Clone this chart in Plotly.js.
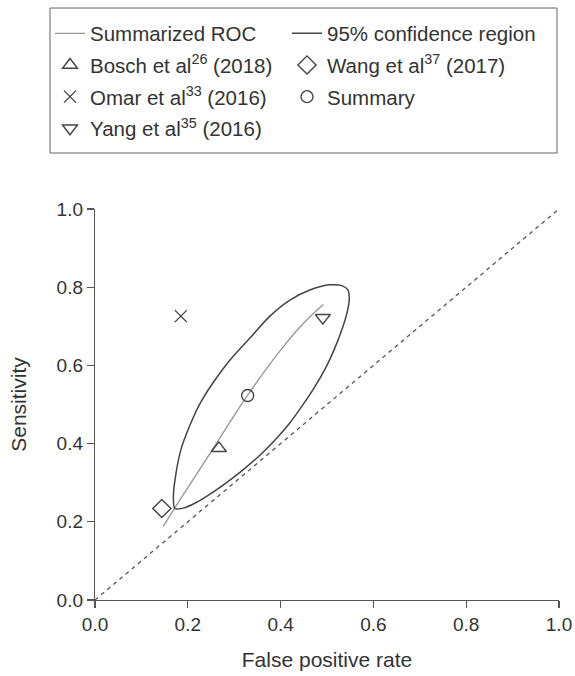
<!DOCTYPE html>
<html>
<head>
<meta charset="utf-8">
<script src="https://cdn.plot.ly/plotly-3.0.1.min.js"></script>
<style>html,body{margin:0;padding:0;background:#fff;}#chart{width:575px;height:676px;}</style>
</head>
<body>
<div id="chart"></div>
<script>
// Summarized ROC curve
const srocFPR  = [0.147, 0.176, 0.248, 0.329, 0.406, 0.456, 0.492];
const srocSens = [0.188, 0.243, 0.375, 0.524, 0.648, 0.716, 0.756];

// 95% confidence region (closed contour, from lower tip up the left side, over the top, down the right side)
const crFPR  = [0.172, 0.169, 0.174, 0.185, 0.205, 0.228, 0.257, 0.291, 0.334, 0.377, 0.420, 0.463, 0.507, 0.532, 0.545, 0.548, 0.544, 0.532, 0.515, 0.496, 0.472, 0.446, 0.418, 0.388, 0.356, 0.319, 0.282, 0.248, 0.216, 0.190, 0.172];
const crSens = [0.234, 0.266, 0.320, 0.384, 0.448, 0.506, 0.560, 0.614, 0.670, 0.726, 0.767, 0.793, 0.806, 0.804, 0.793, 0.772, 0.739, 0.691, 0.639, 0.591, 0.542, 0.496, 0.450, 0.409, 0.371, 0.333, 0.299, 0.271, 0.248, 0.235, 0.234];

// Studies
const studyNames = ["Bosch et al<sup>26</sup> (2018)", "Wang et al<sup>37</sup> (2017)", "Omar et al<sup>33</sup> (2016)", "Summary", "Yang et al<sup>35</sup> (2016)"];
const studyFPR   = [0.267, 0.144, 0.185, 0.329, 0.491];
const studySens  = [0.388, 0.234, 0.726, 0.523, 0.722];
const studySymbols = ["triangle-up-open", "diamond-open", "x-thin-open", "circle-open", "triangle-down-open"];
const studySizes = [13, 14, 12, 12, 13];
const studyLegend = ["legend", "legend2", "legend", "legend2", "legend"];
const studyRank = [2, 2, 3, 3, 4];

// Chance line
const diagX = [0, 1];
const diagY = [0, 1];

const dark = "#444444";
const traces = [];

traces.push({
  x: diagX, y: diagY, mode: "lines", showlegend: false, hoverinfo: "skip",
  line: {color: "#555555", width: 1.3, dash: "4px,4px"}
});
traces.push({
  x: srocFPR, y: srocSens, mode: "lines", name: "Summarized ROC",
  legend: "legend", legendrank: 1, legendgroup: "g1",
  line: {color: "#999999", width: 1.4, shape: "spline"}
});
traces.push({
  x: crFPR, y: crSens, mode: "lines", name: "95% confidence region",
  legend: "legend2", legendrank: 1, legendgroup: "g2",
  line: {color: dark, width: 1.5, shape: "spline", smoothing: 0.8}
});
for (let i = 0; i < studyNames.length; i++) {
  traces.push({
    x: [studyFPR[i]], y: [studySens[i]], mode: "markers", name: studyNames[i],
    legend: studyLegend[i], legendrank: studyRank[i], legendgroup: "s" + i,
    marker: {symbol: studySymbols[i], size: studySizes[i], color: dark, line: {color: dark, width: 1.4}}
  });
}

const fontFam = "Liberation Sans, Arial, Helvetica, sans-serif";
const axisCommon = {
  range: [0, 1], dtick: 0.2, tick0: 0, tickformat: ".1f",
  showgrid: false, zeroline: false, showline: true, linecolor: "#555555", linewidth: 1.2,
  ticks: "outside", ticklen: 7, tickwidth: 1.2, tickcolor: "#555555",
  tickfont: {family: fontFam, size: 19, color: "#333333"}, fixedrange: true
};

const legendCommon = {
  orientation: "v", xanchor: "left", y: 1.50, yanchor: "top",
  borderwidth: 0, bgcolor: "rgba(0,0,0,0)", tracegroupgap: 2,
  traceorder: "grouped",
  font: {family: fontFam, size: 20.5, color: "#333333"}
};

const layout = {
  width: 575, height: 676,
  margin: {l: 95, r: 16, t: 209, b: 76},
  paper_bgcolor: "#ffffff", plot_bgcolor: "#ffffff",
  font: {family: fontFam, color: "#333333"},
  xaxis: Object.assign({}, axisCommon, {
    title: {text: "False positive rate", font: {family: fontFam, size: 21, color: "#333333"}, standoff: 18}
  }),
  yaxis: Object.assign({}, axisCommon, {
    title: {text: "Sensitivity", font: {family: fontFam, size: 21, color: "#333333"}, standoff: 24}
  }),
  showlegend: true,
  legend: Object.assign({}, legendCommon, {x: -0.097}),
  legend2: Object.assign({}, legendCommon, {x: 0.4138}),
  shapes: [{
    type: "rect", xref: "paper", yref: "paper",
    x0: -0.097, x1: 0.9957, y0: 1.1432, y1: 1.514,
    line: {color: "#666666", width: 1}, fillcolor: "rgba(0,0,0,0)"
  }]
};

Plotly.newPlot("chart", traces, layout, {displayModeBar: false, staticPlot: true});
</script>
</body>
</html>
